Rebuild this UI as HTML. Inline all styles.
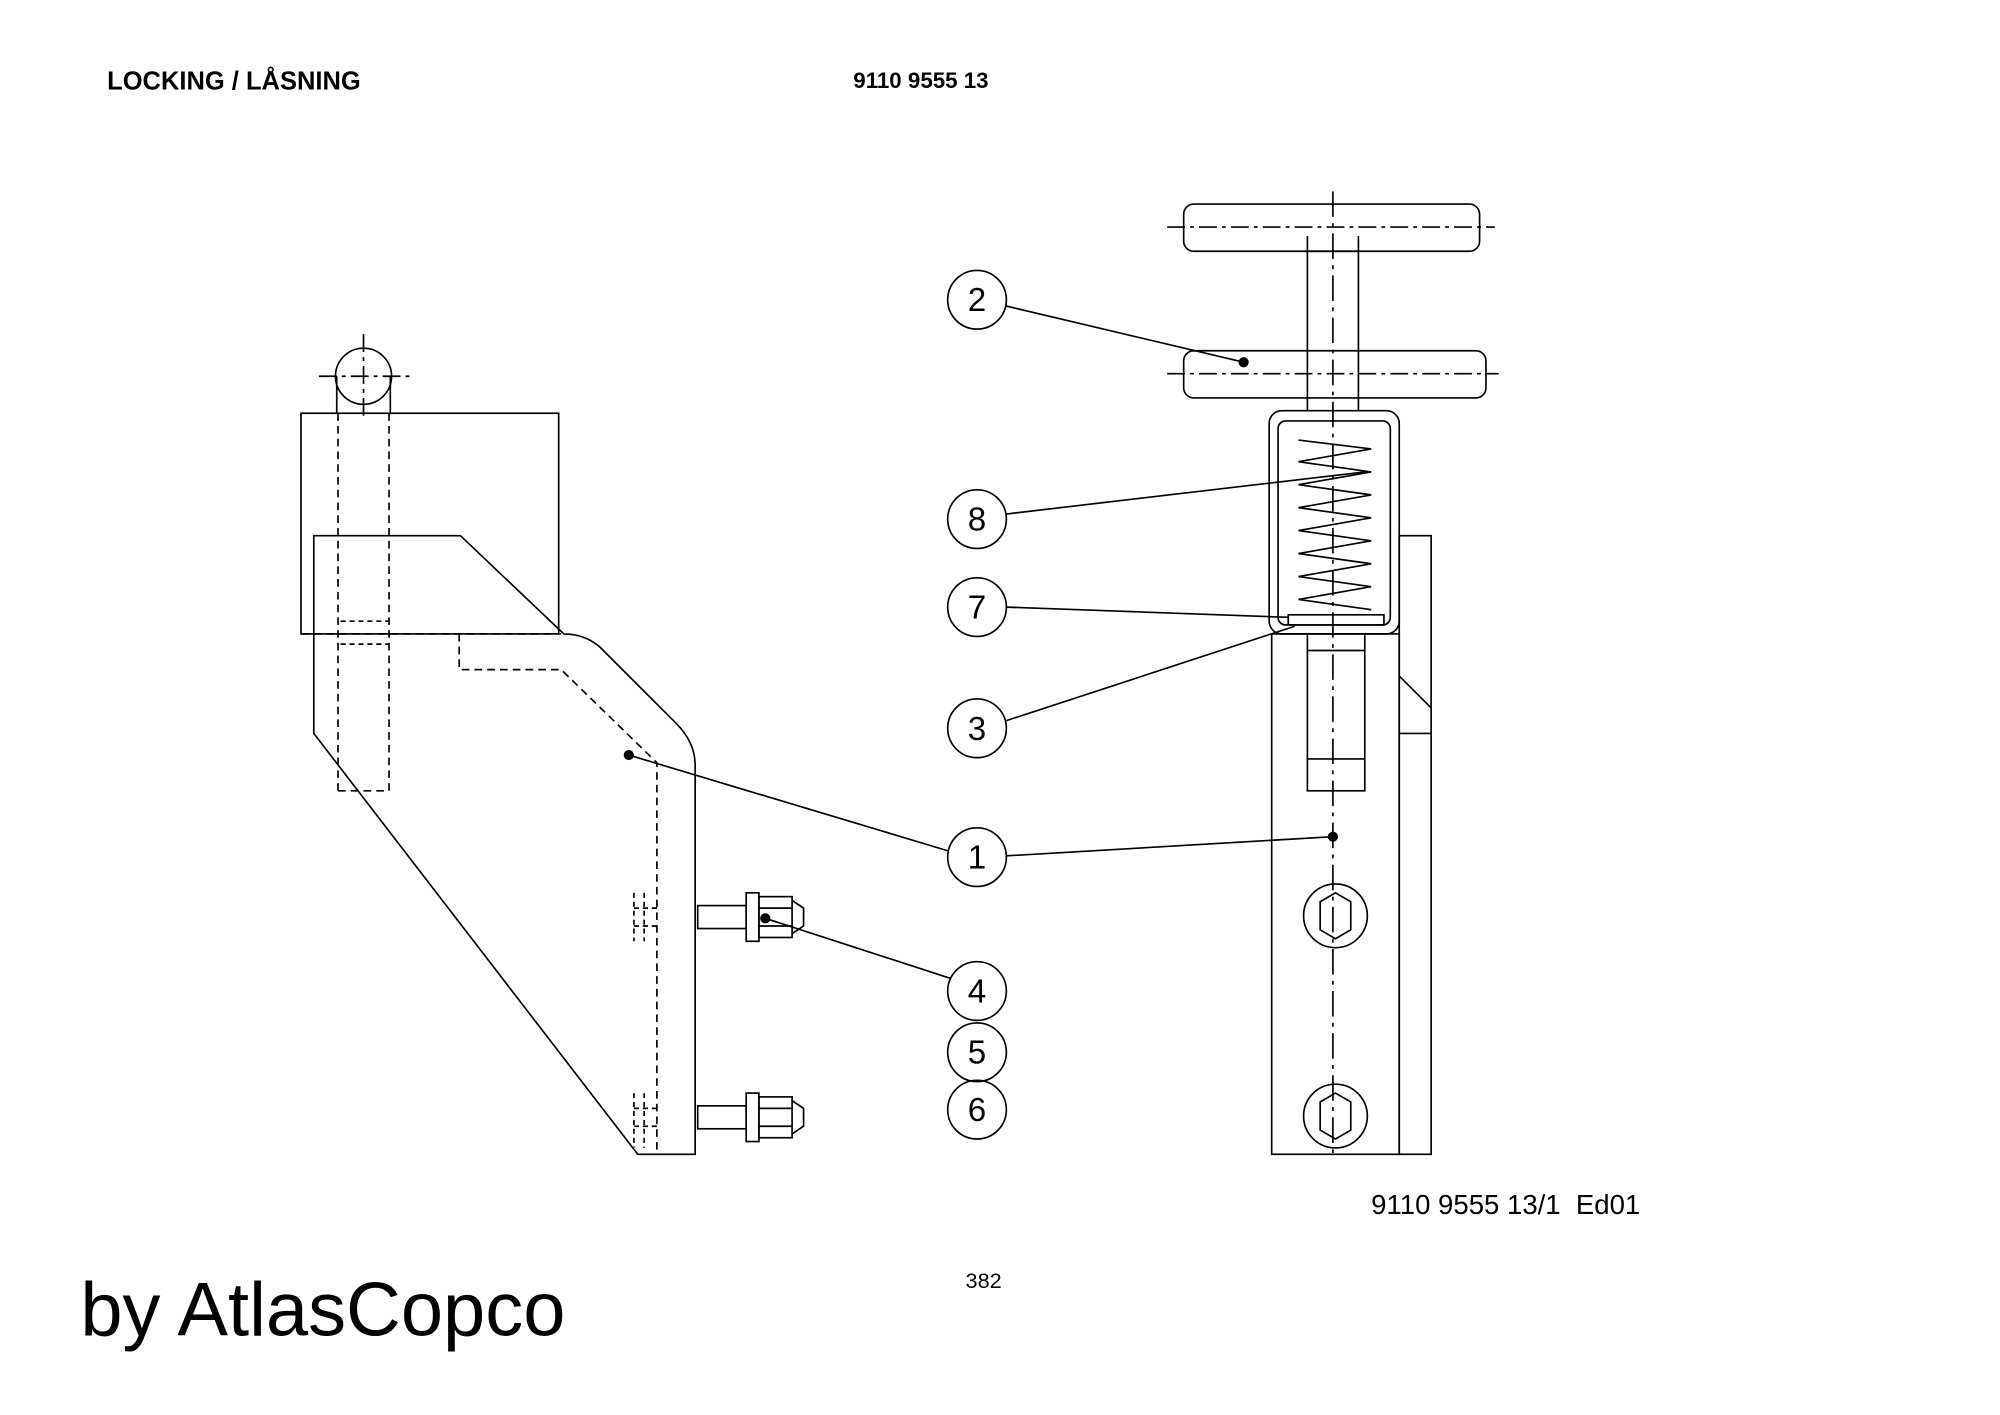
<!DOCTYPE html>
<html><head><meta charset="utf-8"><style>
html,body{margin:0;padding:0;background:#fff;width:2000px;height:1415px;overflow:hidden}
svg{display:block}
text{font-family:"Liberation Sans",Arial,sans-serif;fill:#000}
</style></head><body>
<svg width="2000" height="1415" viewBox="0 0 1568 1109.4" preserveAspectRatio="none" xmlns="http://www.w3.org/2000/svg">
<g fill="none" stroke="#000" stroke-width="1.3">
<circle cx="285" cy="295" r="22"/>
<line x1="250" y1="295" x2="322" y2="295" stroke-dasharray="14,4,3,4"/>
<line x1="285" y1="262" x2="285" y2="330" stroke-dasharray="14,4,3,4"/>
<line x1="264" y1="295" x2="264" y2="324"/><line x1="306" y1="295" x2="306" y2="324"/>
<rect x="236" y="324" width="202" height="173"/>
<line x1="236" y1="497" x2="440" y2="497" stroke-dasharray="6,4"/>
<path d="M265 324 V620 M305 324 V620 M265 620 H305" stroke-dasharray="6,4"/>
<path d="M267 487 h38 M267 505 h38" stroke-dasharray="4,3"/>
<path d="M246 420 H361 L442 497 Q458 497 470 507 L530 567 Q545 582 545 600 V905 H500 L246 575 Z"/>
<path d="M360 497 V525 H440 L515 598 V905" stroke-dasharray="6,4"/>
<g>
<rect x="547" y="710" width="38" height="18"/>
<rect x="585" y="700" width="10" height="38"/>
<rect x="595" y="703" width="26" height="32"/>
<path d="M621 706 L630 712 V726 L621 732"/>
<line x1="595" y1="712" x2="621" y2="712"/><line x1="595" y1="726" x2="621" y2="726"/>
<path d="M497 700 V738 M505 700 V738 M497 712 h18 M497 726 h18" stroke-dasharray="4,3"/>
</g>
<g>
<rect x="547" y="867" width="38" height="18"/>
<rect x="585" y="857" width="10" height="38"/>
<rect x="595" y="860" width="26" height="32"/>
<path d="M621 863 L630 869 V883 L621 889"/>
<line x1="595" y1="869" x2="621" y2="869"/><line x1="595" y1="883" x2="621" y2="883"/>
<path d="M497 857 V900 M505 857 V900 M497 869 h18 M497 883 h18" stroke-dasharray="4,3"/>
</g>
<rect x="928" y="160" width="232" height="37" rx="8"/>
<line x1="915" y1="178" x2="1172" y2="178" stroke-dasharray="14,4,3,4"/>
<rect x="928" y="275" width="237" height="37" rx="8"/>
<line x1="915" y1="293" x2="1175" y2="293" stroke-dasharray="14,4,3,4"/>
<path d="M1025 185 V322 M1065 185 V322"/>
<line x1="1025" y1="197" x2="1065" y2="197"/>
<rect x="995" y="322" width="102" height="175" rx="10"/>
<rect x="1002" y="330" width="88" height="160" rx="6"/>
<rect x="1097" y="420" width="25" height="485"/>
<path d="M1097 530 L1122 555 M1097 575 H1122"/>
<rect x="997" y="497" width="100" height="408"/>
<path d="M1018 345 L1075 352 L1018 362 L1075 370 L1018 380 L1075 388 L1018 398 L1075 406 L1018 416 L1075 424 L1018 434 L1075 442 L1018 452 L1075 460 L1018 470 L1075 478"/>
<path d="M1010 482 H1085 V490 H1010 Z"/>
<path d="M1025 497 V620 H1070 V497 M1025 510 H1070 M1025 595 H1070"/>
<line x1="1045" y1="150" x2="1045" y2="905" stroke-dasharray="20,5,3,5"/>
<circle cx="1047" cy="718" r="25"/>
<polygon points="1035,707 1047,700 1059,707 1059,729 1047,736 1035,729"/>
<circle cx="1047" cy="875" r="25"/>
<polygon points="1035,864 1047,857 1059,864 1059,886 1047,893 1035,886"/>
<circle cx="766" cy="235" r="23"/>
<circle cx="766" cy="407" r="23"/>
<circle cx="766" cy="476" r="23"/>
<circle cx="766" cy="571" r="23"/>
<circle cx="766" cy="672" r="23"/>
<circle cx="766" cy="777" r="23"/>
<circle cx="766" cy="825" r="23"/>
<circle cx="766" cy="870" r="23"/>
<line x1="789" y1="240" x2="975" y2="284"/>
<line x1="789" y1="403" x2="1070" y2="370"/>
<line x1="789" y1="476" x2="1010" y2="484"/>
<line x1="789" y1="565" x2="1015" y2="491"/>
<line x1="743" y1="667" x2="493" y2="592"/>
<line x1="789" y1="671" x2="1045" y2="656"/>
<line x1="745" y1="767" x2="600" y2="720"/>
</g>
<g fill="#000">
<circle cx="975" cy="284" r="4"/><circle cx="493" cy="592" r="4"/>
<circle cx="1045" cy="656" r="4"/><circle cx="600" cy="720" r="4"/>
</g>
<g font-size="26" text-anchor="middle">
<text x="766" y="244">2</text><text x="766" y="416">8</text><text x="766" y="485">7</text>
<text x="766" y="580">3</text><text x="766" y="681">1</text><text x="766" y="786">4</text>
<text x="766" y="834">5</text><text x="766" y="879">6</text>
</g>
<text x="84" y="70" font-size="20" font-weight="bold">LOCKING / LÅSNING</text>
<text x="669" y="69" font-size="17.5" font-weight="bold">9110 9555 13</text>
<text x="1075" y="952" font-size="21.6" xml:space="preserve">9110 9555 13/1  Ed01</text>
<text x="757" y="1010" font-size="17">382</text>
<text x="63" y="1047" font-size="59.5">by AtlasCopco</text>
</svg>
</body></html>
